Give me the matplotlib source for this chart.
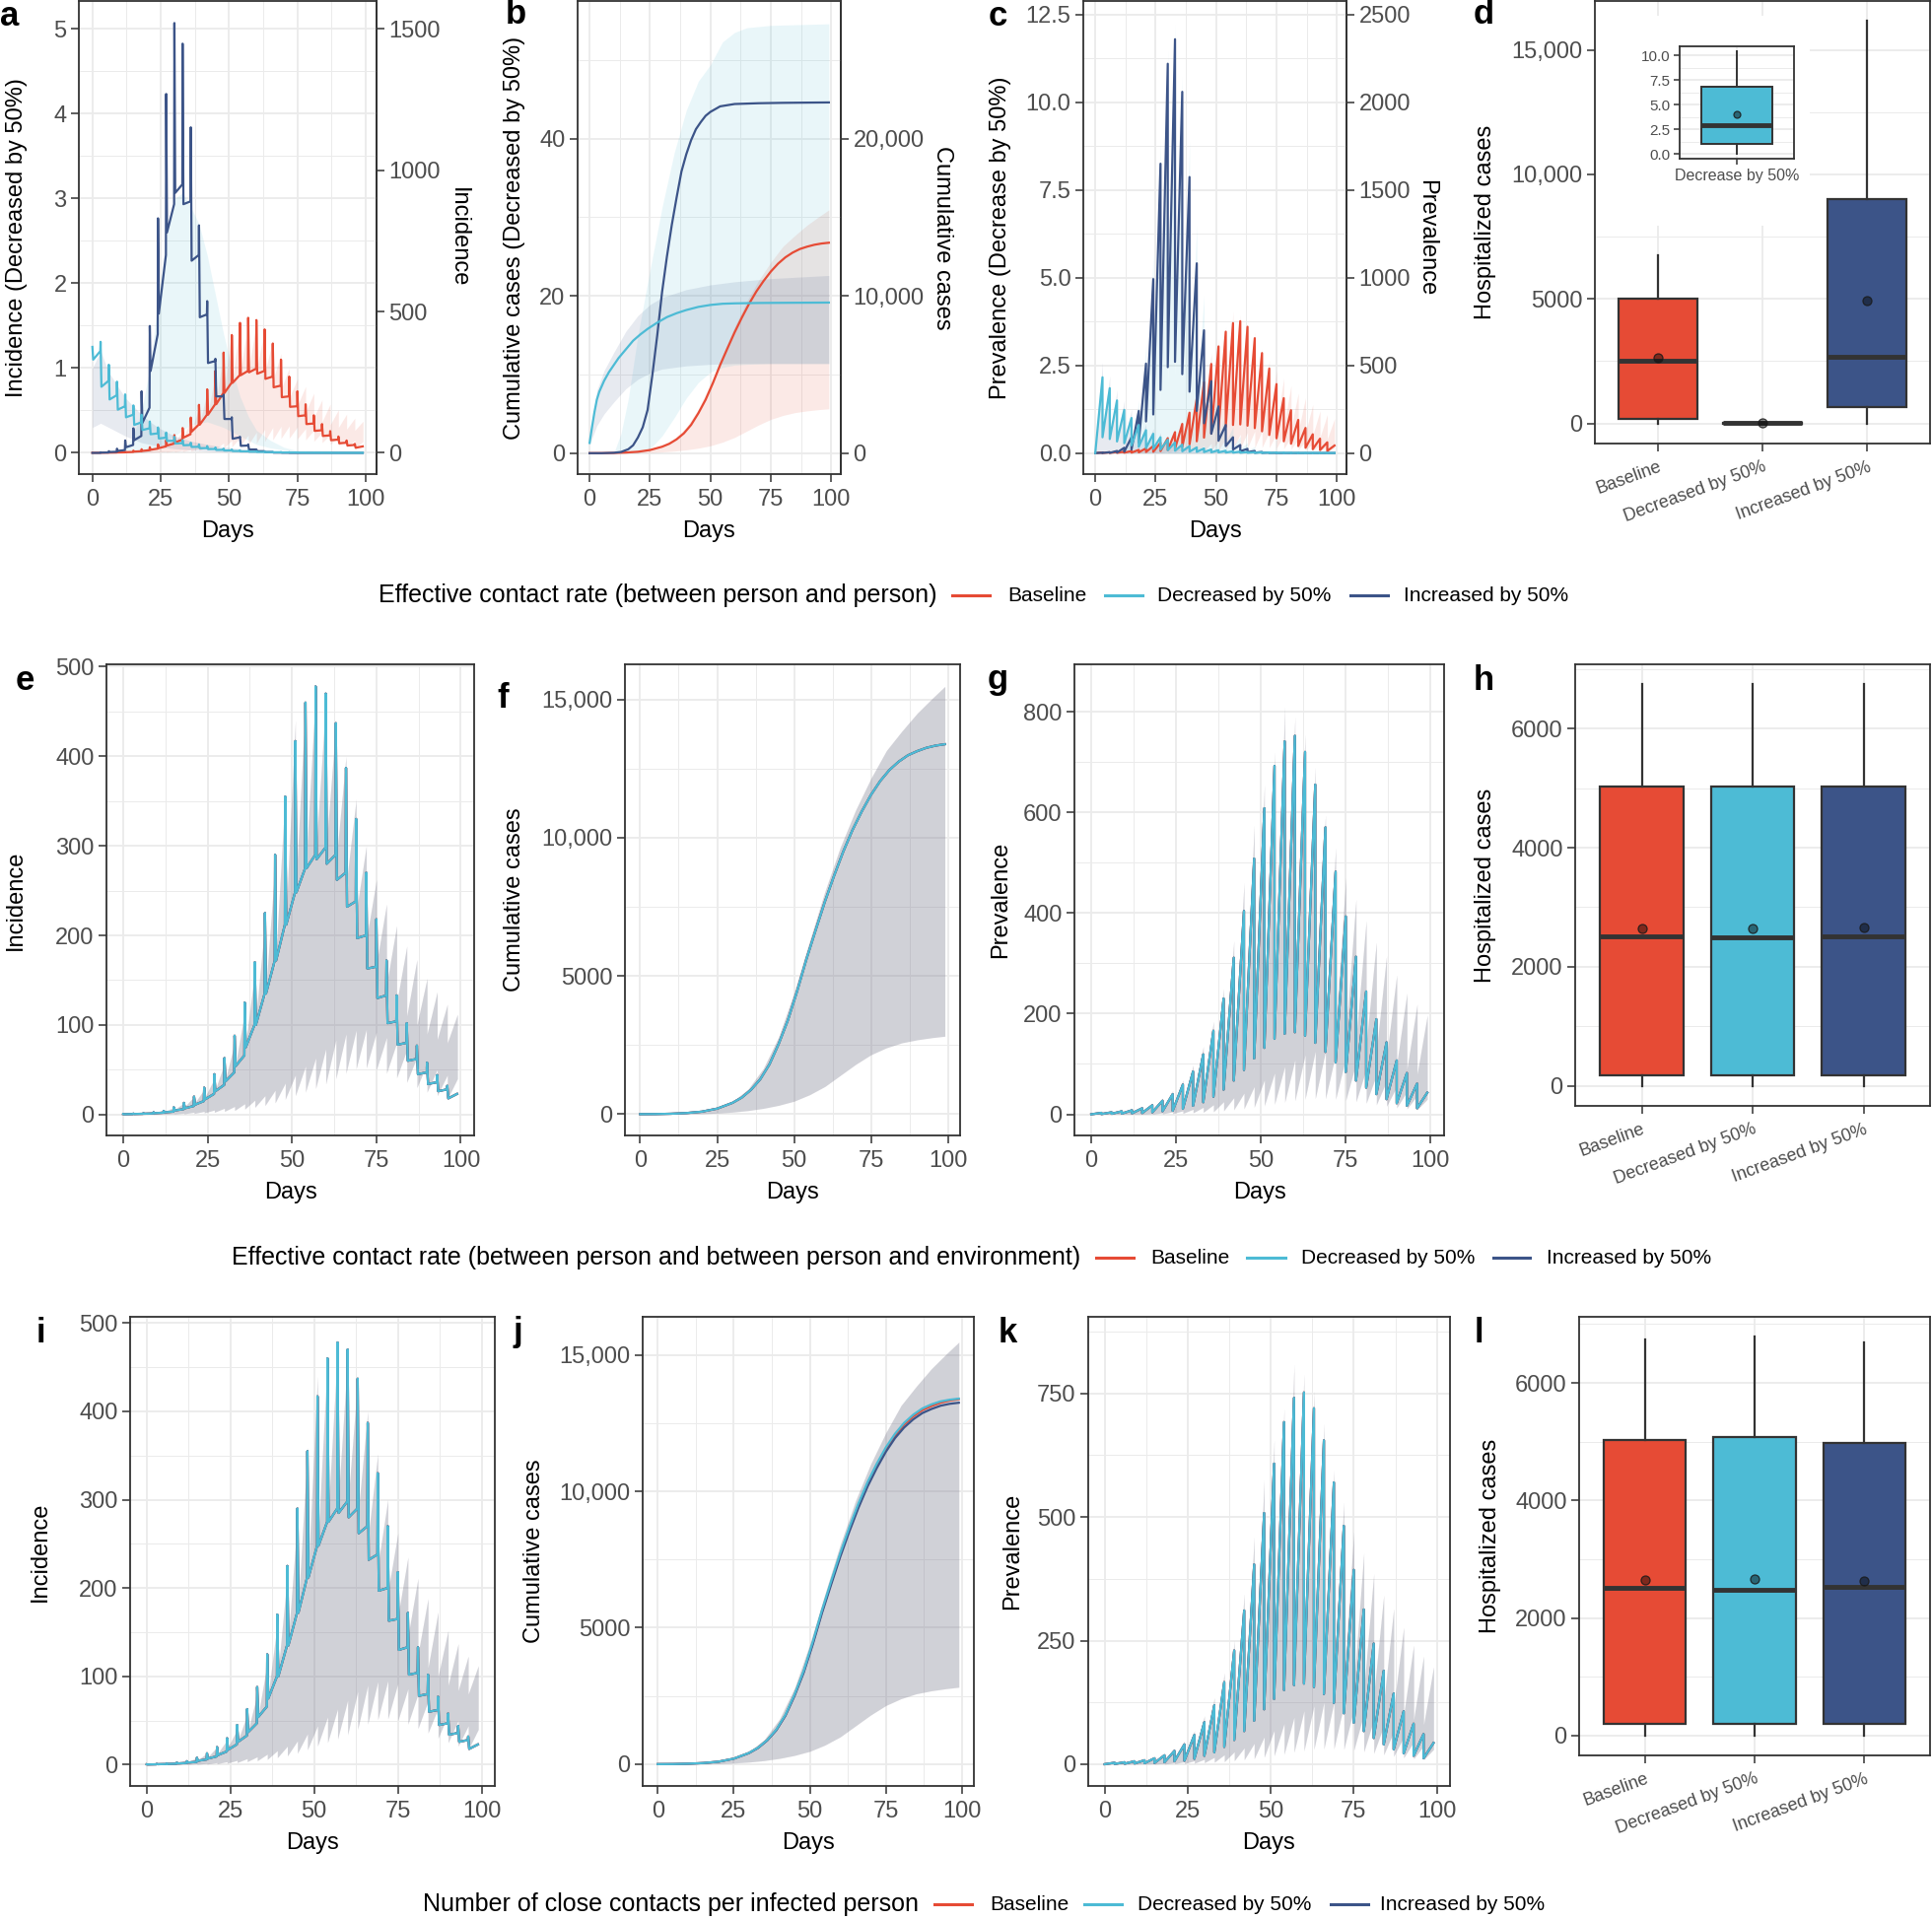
import numpy as np
import matplotlib
matplotlib.use("Agg")
import matplotlib.pyplot as plt
from matplotlib.lines import Line2D
from matplotlib.patches import Rectangle
from matplotlib.ticker import FuncFormatter, NullLocator

plt.rcParams["font.family"] = ["Liberation Sans", "DejaVu Sans"]

RED, CYAN, NAVY = "#E64B35", "#4DBBD5", "#3C5488"
INK, TICK, GRID = "#333333", "#4D4D4D", "#EBEBEB"
W, H = 1960, 1948

# -------------------------
# DATA
# -------------------------
scenarios = ["Baseline", "Decreased by 50%", "Increased by 50%"]
saw_days = list(range(0, 100, 3))      # 0, 3, ... 99
spike_days = saw_days[:33]             # 0, 3, ... 96

# baseline incidence (spike at each 3rd day, level after the drop, level before the next spike)
inc_peak = [0.5, 1, 1.5, 2.5, 4, 8, 13, 20, 30, 45, 63, 88, 125, 170, 225, 290, 355, 417, 460, 478,
            470, 437, 387, 330, 270, 218, 172, 133, 102, 77, 58, 44, 32]
inc_low = [0.3, 0.6, 0.9, 1.5, 2.5, 4.5, 7, 11, 17, 26, 37, 54, 75, 100, 135, 172, 212, 248, 275, 285,
           280, 262, 232, 197, 163, 130, 102, 78, 60, 45, 34, 26, 18]
inc_pre = [0.5, 0.8, 1.2, 2, 3.2, 6, 9.5, 15, 23, 33, 47, 66, 100, 135, 172, 212, 248, 275, 290, 298,
           290, 270, 238, 200, 165, 133, 104, 80, 62, 47, 36, 28, 23]
# band edges of the baseline incidence (peak on each 3rd day incl. day 99, value after the drop)
inc_hi_peak = [0.5, 1, 2, 3, 5, 8, 13, 20, 28, 40, 57, 80, 115, 160, 215, 280, 360, 440, 462, 472,
               462, 437, 400, 352, 300, 262, 235, 211, 188, 173, 152, 137, 123, 112]
inc_hi_drop = [0.3, 0.6, 1, 1.8, 3, 5, 8, 12, 18, 25, 35, 50, 72, 97, 128, 163, 203, 245, 272, 288,
               292, 280, 255, 225, 195, 168, 145, 125, 110, 100, 90, 84, 80]
inc_lo_peak = [0, 0.1, 0.2, 0.4, 0.7, 1, 1.5, 2.5, 3.5, 5, 7, 9, 12, 16, 21, 27, 35, 44, 54, 63,
               73, 83, 90, 94, 95, 92, 86, 80, 72, 64, 57, 50, 44, 40]
inc_lo_drop = [0, 0, 0.1, 0.2, 0.3, 0.5, 0.8, 1.2, 1.8, 2.5, 3.5, 4.5, 6, 8, 10, 13, 17, 21, 25, 29,
               34, 40, 46, 51, 52, 50, 46, 41, 36, 30, 25, 21, 17]

# baseline prevalence (peak on each 3rd day, value right after the drop)
prev_peak = [0, 3, 4, 6, 8, 12, 18, 27, 40, 59, 85, 119, 166, 230, 311, 404, 508, 608, 692, 741,
             752, 720, 655, 570, 482, 393, 313, 244, 189, 143, 107, 82, 61, 43]
prev_drop = [0, 0.5, 1, 1.5, 2, 2.5, 4, 6, 7, 11, 17, 24, 35, 49, 67, 88, 111, 132, 150, 160,
             163, 156, 142, 124, 103, 84, 67, 53, 40, 30, 22, 17, 12]
prev_hi_peak = [0, 4, 6, 8, 11, 15, 22, 32, 47, 68, 98, 135, 185, 250, 345, 460, 575, 655, 720, 810,
                790, 755, 690, 595, 530, 470, 427, 385, 342, 315, 277, 241, 219, 197]
prev_hi_drop = [0, 1, 1.5, 2, 3, 4, 6, 8, 11, 16, 24, 34, 48, 65, 88, 115, 140, 165, 185, 195,
                200, 198, 190, 180, 170, 160, 150, 140, 125, 115, 100, 90, 80]
prev_lo_peak = [0, 0.2, 0.3, 0.5, 0.7, 1, 1.5, 3, 5, 7, 10, 14, 19, 25, 33, 42, 55, 68, 82, 95,
                108, 118, 125, 125, 120, 112, 102, 90, 78, 66, 55, 45, 37, 30]
prev_lo_drop = [0, 0, 0, 0.1, 0.1, 0.2, 0.3, 1, 1.5, 2, 3, 4, 5, 7, 9, 11, 14, 17, 20, 24,
                27, 30, 31, 31, 30, 28, 25, 22, 19, 16, 13, 11, 9]

# baseline cumulative cases
cum_days = [0, 5, 10, 15, 20, 25, 30, 33, 36, 39, 42, 45, 48, 51, 54, 57, 60, 63, 66, 69,
            72, 75, 78, 81, 84, 87, 90, 93, 96, 99]
cum_base = [0, 3, 15, 40, 90, 200, 410, 600, 880, 1260, 1800, 2540, 3400, 4450, 5600, 6650, 7680, 8620, 9500, 10280,
            10950, 11550, 12050, 12450, 12750, 12980, 13130, 13250, 13330, 13380]
cum_band_days = [0, 10, 20, 25, 30, 35, 40, 45, 50, 55, 60, 65, 70, 75, 80, 85, 90, 95, 99]
cum_band_hi = [0, 20, 100, 220, 460, 900, 1650, 2800, 4400, 6250, 8050, 9650, 11000, 12150, 13150, 13850, 14500, 15050, 15470]
cum_band_lo = [0, 3, 15, 40, 75, 130, 210, 320, 470, 700, 1000, 1400, 1800, 2150, 2400, 2580, 2690, 2770, 2820]

# panel a: increased (right axis units) and decreased (left axis units)
a_inc_peak = [0, 2, 6, 15, 44, 87, 218, 449, 830, 1270, 1521, 1448, 1152, 805, 537, 333, 206, 126, 57, 30,
              12, 5, 2, 1, 0, 0, 0, 0, 0, 0, 0, 0, 0]
a_inc_low = [0, 1, 3, 7, 20, 45, 106, 290, 493, 780, 920, 880, 680, 480, 318, 200, 120, 50, 25, 12,
             6, 3, 1, 0.5, 0, 0, 0, 0, 0, 0, 0, 0, 0]
a_inc_pre = [0, 1.5, 4, 10, 28, 60, 160, 420, 700, 880, 950, 890, 700, 490, 325, 200, 120, 55, 26, 12,
             6, 3, 1, 0.5, 0, 0, 0, 0, 0, 0, 0, 0, 0]
a_dec_peak = [1.25, 1.31, 1.04, 0.84, 0.69, 0.56, 0.45, 0.37, 0.30, 0.24, 0.19, 0.15, 0.12, 0.10, 0.08, 0.065,
              0.05, 0.04, 0.03, 0.025, 0.02, 0.015, 0.012, 0.01, 0.008, 0.006, 0.005, 0.004, 0.003, 0.003,
              0.002, 0.002, 0.001]
a_dec_low = [1.10, 0.78, 0.63, 0.51, 0.42, 0.33, 0.27, 0.22, 0.17, 0.14, 0.11, 0.09, 0.07, 0.055, 0.045, 0.035,
             0.028, 0.022, 0.018, 0.014, 0.011, 0.009, 0.007, 0.005, 0.004, 0.003, 0.002, 0.002, 0.002, 0.001,
             0.001, 0.001, 0.001]
a_dec_pre = [1.2, 0.85, 0.68, 0.55, 0.45, 0.36, 0.29, 0.23, 0.18, 0.145, 0.115, 0.093, 0.072, 0.057, 0.046, 0.036,
             0.029, 0.022, 0.018, 0.014, 0.011, 0.009, 0.007, 0.005, 0.004, 0.003, 0.002, 0.002, 0.002, 0.001,
             0.001, 0.001, 0.001]
a_inc_band_days = [12, 15, 18, 21, 24, 27, 30, 33, 36, 39, 42, 45, 48, 51, 54, 57, 60, 65, 70, 75, 80]
a_inc_band_hi = [20, 60, 150, 300, 540, 760, 900, 920, 870, 810, 700, 560, 420, 300, 200, 130, 80, 45, 20, 8, 0]
a_inc_band_lo = [0, 0, 0, 5, 20, 40, 60, 80, 100, 105, 110, 100, 90, 75, 60, 45, 30, 18, 10, 4, 0]
a_dec_band_days = [0, 3, 6, 9, 12, 15, 18, 21, 24, 27, 30, 36, 42, 48, 54, 60, 70, 80, 99]
a_dec_band_hi = [1.0, 1.2, 0.95, 0.8, 0.65, 0.55, 0.45, 0.37, 0.3, 0.25, 0.2, 0.14, 0.1, 0.07, 0.05, 0.03, 0.015, 0.007, 0.002]
a_dec_band_lo = [0.3, 0.35, 0.3, 0.25, 0.2, 0.16, 0.12, 0.1, 0.08, 0.06, 0.05, 0.035, 0.02, 0.01, 0.005, 0, 0, 0, 0]

# panel b: cumulative, increased (right units) and decreased (left units)
b_inc_days = [0, 5, 10, 13, 16, 18, 20, 22, 24, 26, 28, 30, 32, 34, 36, 38, 40, 42, 44, 46,
              48, 50, 54, 60, 70, 80, 99]
b_inc_cum = [0, 0, 25, 75, 250, 500, 1000, 1650, 2750, 5000, 7500, 10250, 12500, 14500, 16250, 17900, 19000, 19900, 20600, 21050,
             21450, 21700, 22050, 22200, 22250, 22275, 22300]
b_dec_days = [0, 1, 2, 3, 4, 6, 8, 10, 12, 15, 18, 21, 24, 28, 32, 36, 40, 45, 50, 55, 60, 70, 80, 99]
b_dec_cum = [1.3, 3.3, 5.2, 6.8, 7.8, 9.2, 10.3, 11.2, 12.1, 13.2, 14.3, 15.1, 15.8, 16.6, 17.3, 17.8, 18.2, 18.6,
             18.85, 19.0, 19.05, 19.1, 19.12, 19.15]
b_inc_band_days = [10, 13, 16, 20, 24, 27, 30, 35, 40, 45, 50, 55, 60, 65, 75, 99]
b_inc_band_hi = [0, 1250, 3450, 7500, 10850, 13250, 15650, 19100, 21800, 23650, 24700, 26150, 26750, 27050, 27200, 27300]
b_inc_band_lo = [0, 0, 0, 0, 150, 600, 1100, 2250, 3500, 4500, 5150, 5450, 5600, 5650, 5700, 5700]
b_dec_band_days = [0, 3, 6, 10, 15, 20, 25, 30, 40, 50, 60, 75, 99]
b_dec_band_hi = [1.5, 8, 10.5, 12.8, 15.5, 17.5, 18.9, 19.8, 20.8, 21.4, 21.8, 22.2, 22.6]
b_dec_band_lo = [1.1, 3.5, 5, 6.5, 8.2, 9.4, 10.2, 10.7, 11.1, 11.3, 11.4, 11.4, 11.4]

# panel c: prevalence, increased (right units) and decreased (left units)
c_inc_peak = [0, 2, 5, 12, 30, 90, 240, 510, 992, 1650, 2220, 2360, 2060, 1574, 1082, 700, 410, 266, 160, 90,
              46, 24, 12, 6, 3, 1, 0, 0, 0, 0, 0, 0, 0, 0]
c_inc_drop = [0, 0.5, 1, 3, 8, 20, 60, 180, 220, 360, 490, 520, 450, 350, 240, 170, 110, 70, 40, 20,
              10, 5, 2, 1, 0.5, 0, 0, 0, 0, 0, 0, 0, 0]
c_dec_peak = [0, 2.16, 1.85, 1.5, 1.23, 1.0, 0.8, 0.65, 0.55, 0.45, 0.38, 0.3, 0.24, 0.2, 0.16, 0.13, 0.1, 0.08,
              0.065, 0.05, 0.04, 0.03, 0.025, 0.02, 0.015, 0.012, 0.01, 0.008, 0.006, 0.005, 0.004, 0.003, 0.003, 0.002]
c_dec_drop = [0, 0.45, 0.4, 0.33, 0.28, 0.22, 0.18, 0.14, 0.12, 0.1, 0.08, 0.065, 0.05, 0.04, 0.035, 0.028, 0.022,
              0.018, 0.014, 0.011, 0.009, 0.007, 0.005, 0.004, 0.003, 0.0025, 0.002, 0.0017, 0.0013, 0.001,
              0.0008, 0.0006, 0.0005]
c_inc_band_peak = [0, 3, 7, 16, 40, 110, 300, 620, 1150, 1800, 2300, 2450, 2150, 1780, 1300, 900, 560, 360, 230, 150,
                   95, 60, 38, 24, 15, 9, 5, 3, 2, 1, 0.5, 0, 0, 0]
c_inc_band_drop = [0, 0.5, 1, 3, 8, 20, 55, 120, 200, 300, 400, 450, 430, 380, 300, 220, 150, 100, 65, 40,
                   25, 15, 9, 5, 3, 2, 1, 0.5, 0, 0, 0, 0, 0]
c_dec_band_peak = [0, 2.6, 2.2, 1.8, 1.5, 1.25, 1.0, 0.85, 0.7, 0.58, 0.48, 0.4, 0.33, 0.27, 0.22, 0.18, 0.15, 0.12,
                   0.1, 0.08, 0.065, 0.05, 0.04, 0.032, 0.025, 0.02, 0.016, 0.012, 0.01, 0.008, 0.006, 0.005, 0.004, 0.003]
c_dec_band_drop = [0, 0.6, 0.5, 0.42, 0.35, 0.29, 0.23, 0.19, 0.16, 0.13, 0.11, 0.09, 0.075, 0.06, 0.05, 0.04, 0.033,
                   0.027, 0.022, 0.018, 0.014, 0.011, 0.009, 0.007, 0.006, 0.005, 0.004, 0.003, 0.0025, 0.002,
                   0.0015, 0.001, 0.001]

# panel j: the three cumulative curves part slightly at the end
j_navy = [0, 3, 15, 40, 90, 200, 405, 595, 870, 1245, 1780, 2510, 3360, 4400, 5540, 6580, 7600, 8530, 9400, 10180,
          10850, 11450, 11950, 12340, 12640, 12870, 13020, 13140, 13210, 13250]
j_cyan = [0, 3, 15, 40, 90, 200, 412, 605, 885, 1270, 1815, 2560, 3430, 4490, 5640, 6700, 7730, 8680, 9560, 10340,
          11010, 11610, 12110, 12510, 12810, 13040, 13190, 13300, 13360, 13400]

# hospitalized cases (box stats)
d_lo, d_q1, d_med, d_q3, d_hi, d_mean = [0, 0, 0], [184, 1.0, 640], [2510, 2.9, 2690], [5021, 6.8, 9020], [6742, 10.4, 16150], [2651, 4.0, 4915]
h_lo, h_q1, h_med, h_q3, h_hi, h_mean = [0, 0, 0], [184, 184, 184], [2510, 2500, 2505], [5021, 5020, 5030], [6742, 6745, 6750], [2651, 2640, 2655]
l_lo, l_q1, l_med, l_q3, l_hi, l_mean = [0, 0, 0], [193, 193, 193], [2510, 2480, 2528], [5025, 5085, 4977], [6740, 6782, 6692], [2648, 2672, 2630]

# -------------------------
# HELPERS
# -------------------------
fig = plt.figure(figsize=(W / 100, H / 100), dpi=100)


def frac(px):
    x0, y0, x1, y1 = px
    return [x0 / W, 1 - y1 / H, (x1 - x0) / W, (y1 - y0) / H]


def spike_path(peak, low, pre):
    xs, ys = [], []
    for d, p, b, q in zip(spike_days, peak, low, pre):
        xs += [d, d + 0.3, d + 2.9]
        ys += [p, b, q]
    return np.array(xs, float), np.array(ys, float)


def saw_path(peak, drop):
    xs, ys = [], []
    for k, p in enumerate(peak):
        xs.append(saw_days[k]); ys.append(p)
        if k < len(drop):
            xs.append(saw_days[k]); ys.append(drop[k])
    return np.array(xs, float), np.array(ys, float)


def minors(ticks, lim):
    step = ticks[1] - ticks[0]
    cand = [ticks[0] - step / 2] + [(a + b) / 2 for a, b in zip(ticks[:-1], ticks[1:])] + [ticks[-1] + step / 2]
    return [c for c in cand if lim[0] < c < lim[1]]


int_fmt = FuncFormatter(lambda v, p: f"{int(round(v))}")
comma_fmt = FuncFormatter(lambda v, p: f"{int(round(v)):,}" if abs(v) >= 10000 else f"{int(round(v))}")
dec_fmt = FuncFormatter(lambda v, p: f"{v:.1f}")


def dress(ax, ylim, yticks, yfmt, xlim, xticks, xminor=True, size=17, tlen=6, pad=5):
    ax.set_xlim(xlim); ax.set_ylim(ylim)
    ax.set_xticks(xticks)
    if xminor:
        ax.set_xticks(minors(xticks, xlim), minor=True)
    ax.set_yticks(yticks)
    ax.set_yticks(minors(yticks, ylim), minor=True)
    ax.yaxis.set_major_formatter(yfmt)
    ax.grid(True, which="major", color=GRID, lw=1.3)
    ax.grid(True, which="minor", color=GRID, lw=0.7)
    ax.set_axisbelow(True)
    ax.tick_params(which="major", length=tlen, width=1.1, color=INK, labelsize=size, labelcolor=TICK, pad=pad)
    ax.tick_params(axis="y", which="major", pad=3)
    ax.tick_params(which="minor", length=0)
    for s in ax.spines.values():
        s.set_color(INK); s.set_linewidth(1.3)


def line_panel(px, ylim, yticks, yfmt):
    ax = fig.add_axes(frac(px))
    dress(ax, ylim, yticks, yfmt, (-4.95, 103.95), [0, 25, 50, 75, 100])
    ax.set_xlabel("Days", fontsize=17, labelpad=7)
    return ax


def right_axis(ax, factor, ticks, fmt):
    sec = ax.secondary_yaxis("right", functions=(lambda v: v * factor, lambda v: v / factor))
    sec.set_yticks(ticks)
    sec.yaxis.set_major_formatter(fmt)
    sec.yaxis.set_minor_locator(NullLocator())
    sec.tick_params(length=6, width=1.1, color=INK, labelsize=17, labelcolor=TICK, pad=3)
    sec.spines["right"].set_color(INK); sec.spines["right"].set_linewidth(1.3)
    return sec


def boxes(ax, lo, q1, med, q3, hi, mean, positions, colors, lw=1.6, ms=6.5):
    stats = [dict(whislo=a, q1=b, med=c, q3=d, whishi=e, mean=m, fliers=[])
             for a, b, c, d, e, m in zip(lo, q1, med, q3, hi, mean)]
    art = ax.bxp(stats, positions=positions, widths=0.75, patch_artist=True, showmeans=True,
                 showcaps=False, showfliers=False, manage_ticks=False,
                 boxprops=dict(edgecolor=INK, linewidth=lw),
                 whiskerprops=dict(color=INK, linewidth=lw),
                 medianprops=dict(color=INK, linewidth=3.5, solid_capstyle="butt"),
                 meanprops=dict(marker="o", markersize=ms, markerfacecolor=(0, 0, 0, 0.45),
                                markeredgecolor=(0.1, 0.1, 0.1, 0.85), markeredgewidth=0.9))
    for patch, col in zip(art["boxes"], colors):
        patch.set_facecolor(col)


def box_panel(px, ylim, yticks, yfmt, lo, q1, med, q3, hi, mean):
    ax = fig.add_axes(frac(px))
    dress(ax, ylim, yticks, yfmt, (0.4, 3.6), [1, 2, 3], xminor=False)
    boxes(ax, lo, q1, med, q3, hi, mean, [1, 2, 3], [RED, CYAN, NAVY])
    ax.set_xticklabels(scenarios, rotation=20, ha="right", rotation_mode="anchor", fontsize=13, color=TICK)
    return ax


def band(ax, x, lo, hi, color):
    ax.fill_between(x, lo, hi, color=color, alpha=0.12, linewidth=0)


def ylab(x_px, px, text, rot=90):
    yc = 1 - (px[1] + px[3]) / 2 / H
    fig.text(x_px / W, yc, text, rotation=rot, ha="center", va="center", fontsize=17)


def letter(x_px, y_px, s):
    fig.text(x_px / W, 1 - y_px / H, s, ha="center", va="center", fontsize=25, fontweight="bold")


def legend_row(y_px, title, title_end, keys, text_x):
    y = 1 - y_px / H
    fig.text(title_end / W, y, title, ha="right", va="center", fontsize=18)
    for (k0, k1), tx, col, lab in zip(keys, text_x, [RED, CYAN, NAVY], scenarios):
        fig.add_artist(Line2D([k0 / W, k1 / W], [y, y], color=col, lw=2.2))
        fig.text(tx / W, y, lab, ha="left", va="center", fontsize=15)


# pre-built paths for the baseline scenario
xi, inc_line = spike_path(inc_peak, inc_low, inc_pre)
xib, inc_hi = saw_path(inc_hi_peak, inc_hi_drop)
_, inc_lo = saw_path(inc_lo_peak, inc_lo_drop)
xp, prev_line = saw_path(prev_peak, prev_drop)
_, prev_hi = saw_path(prev_hi_peak, prev_hi_drop)
_, prev_lo = saw_path(prev_lo_peak, prev_lo_drop)

# -------------------------
# ROW 1
# -------------------------
A = (80, 1, 382, 481)
ax = line_panel(A, (-0.25, 5.33), [0, 1, 2, 3, 4, 5], int_fmt)
right_axis(ax, 300, [0, 500, 1000, 1500], int_fmt)
band(ax, xib, inc_lo / 300, inc_hi / 300, RED)
band(ax, a_inc_band_days, np.array(a_inc_band_lo) / 300, np.array(a_inc_band_hi) / 300, CYAN)
band(ax, a_dec_band_days, a_dec_band_lo, a_dec_band_hi, NAVY)
ax.plot(xi, inc_line / 300, color=RED, lw=1.6)
xa, ya = spike_path(a_inc_peak, a_inc_low, a_inc_pre)
ax.plot(xa, ya / 300, color=NAVY, lw=1.6)
xa, ya = spike_path(a_dec_peak, a_dec_low, a_dec_pre)
ax.plot(xa, ya, color=CYAN, lw=1.6)
ylab(17, A, "Incidence (Decreased by 50%)")
ylab(465, A, "Incidence", rot=-90)

B = (586, 1, 853, 481)
ax = line_panel(B, (-2.66, 57.5), [0, 20, 40], int_fmt)
right_axis(ax, 500, [0, 10000, 20000], comma_fmt)
band(ax, cum_band_days, np.array(cum_band_lo) / 500, np.array(cum_band_hi) / 500, RED)
band(ax, b_inc_band_days, np.array(b_inc_band_lo) / 500, np.array(b_inc_band_hi) / 500, CYAN)
band(ax, b_dec_band_days, b_dec_band_lo, b_dec_band_hi, NAVY)
ax.plot(cum_days, np.array(cum_base) / 500, color=RED, lw=1.6)
ax.plot(b_inc_days, np.array(b_inc_cum) / 500, color=NAVY, lw=1.6)
ax.plot(b_dec_days, b_dec_cum, color=CYAN, lw=1.6)
ylab(522, B, "Cumulative cases (Decreased by 50%)")
ylab(956, B, "Cumulative cases", rot=-90)

C = (1099, 1, 1366, 481)
ax = line_panel(C, (-0.6, 12.89), [0, 2.5, 5, 7.5, 10, 12.5], dec_fmt)
right_axis(ax, 200, [0, 500, 1000, 1500, 2000, 2500], int_fmt)
band(ax, xp, prev_lo / 200, prev_hi / 200, RED)
xc, yc = saw_path(c_inc_band_peak, c_inc_band_drop)
band(ax, xc, 0, yc / 200, CYAN)
xc, yc = saw_path(c_dec_band_peak, c_dec_band_drop)
band(ax, xc, 0, yc, NAVY)
ax.plot(xp, prev_line / 200, color=RED, lw=1.6)
xc, yc = saw_path(c_inc_peak, c_inc_drop)
ax.plot(xc, yc / 200, color=NAVY, lw=1.6)
xc, yc = saw_path(c_dec_peak, c_dec_drop)
ax.plot(xc, yc, color=CYAN, lw=1.6)
ylab(1015, C, "Prevalence (Decrease by 50%)")
ylab(1447, C, "Prevalence", rot=-90)

D = (1618, 1, 1958, 450)
ax = box_panel(D, (-810, 16960), [0, 5000, 10000, 15000], comma_fmt, d_lo, d_q1, d_med, d_q3, d_hi, d_mean)
ax.add_patch(Rectangle((0.4, 7925), 2.05, 8425, facecolor="white", edgecolor="none", zorder=1))
ins = ax.inset_axes([1.208, 10613, 1.092, 4529], transform=ax.transData, zorder=5)
dress(ins, (-0.5, 10.95), [0, 2.5, 5, 7.5, 10], dec_fmt, (0.4, 1.6), [1], xminor=False, size=11, tlen=4, pad=3)
boxes(ins, d_lo[1:2], d_q1[1:2], d_med[1:2], d_q3[1:2], d_hi[1:2], d_mean[1:2], [1], [CYAN], lw=1.4, ms=5)
ins.set_xticklabels(["Decrease by 50%"], fontsize=11.5, color=TICK)
ylab(1507, D, "Hospitalized cases")

# -------------------------
# ROW 2 and ROW 3
# -------------------------
def triple(ax, xb, lo, hi, x, y):
    for col in (RED, CYAN, NAVY):
        band(ax, xb, lo, hi, col)
    for col in (RED, NAVY, CYAN):
        ax.plot(x, y, color=col, lw=1.6)


E = (108, 674, 481, 1152)
ax = line_panel(E, (-23.4, 502.7), [0, 100, 200, 300, 400, 500], int_fmt)
triple(ax, xib, inc_lo, inc_hi, xi, inc_line)
ylab(16, E, "Incidence")

F = (634, 674, 974, 1152)
ax = line_panel(F, (-770, 16270), [0, 5000, 10000, 15000], comma_fmt)
triple(ax, cum_band_days, cum_band_lo, cum_band_hi, cum_days, cum_base)
ylab(522, F, "Cumulative cases")

G = (1090, 674, 1465, 1152)
ax = line_panel(G, (-42, 894), [0, 200, 400, 600, 800], int_fmt)
triple(ax, xp, prev_lo, prev_hi, xp, prev_line)
ylab(1015, G, "Prevalence")

Hh = (1598, 674, 1958, 1122)
box_panel(Hh, (-337, 7080), [0, 2000, 4000, 6000], int_fmt, h_lo, h_q1, h_med, h_q3, h_hi, h_mean)
ylab(1507, Hh, "Hospitalized cases")

I = (132, 1336, 502, 1812)
ax = line_panel(I, (-24, 507), [0, 100, 200, 300, 400, 500], int_fmt)
triple(ax, xib, inc_lo, inc_hi, xi, inc_line)
ylab(41, I, "Incidence")

J = (652, 1336, 988, 1812)
ax = line_panel(J, (-800, 16400), [0, 5000, 10000, 15000], comma_fmt)
for col in (RED, CYAN, NAVY):
    band(ax, cum_band_days, cum_band_lo, cum_band_hi, col)
ax.plot(cum_days, cum_base, color=RED, lw=1.6)
ax.plot(cum_days, j_navy, color=NAVY, lw=1.6)
ax.plot(cum_days, j_cyan, color=CYAN, lw=1.6)
ylab(542, J, "Cumulative cases")

K = (1104, 1336, 1471, 1812)
ax = line_panel(K, (-44, 905), [0, 250, 500, 750], int_fmt)
triple(ax, xp, prev_lo, prev_hi, xp, prev_line)
ylab(1027, K, "Prevalence")

L = (1602, 1336, 1958, 1781)
box_panel(L, (-337, 7125), [0, 2000, 4000, 6000], int_fmt, l_lo, l_q1, l_med, l_q3, l_hi, l_mean)
ylab(1512, L, "Hospitalized cases")

# -------------------------
# LETTERS AND LEGENDS
# -------------------------
for x, y, s in [(10, 17, "a"), (523, 15, "b"), (1012, 17, "c"), (1505, 15, "d"),
                (25, 690, "e"), (510, 708, "f"), (1012, 690, "g"), (1505, 690, "h"),
                (41, 1352, "i"), (525, 1352, "j"), (1022, 1352, "k"), (1500, 1352, "l")]:
    letter(x, y, s)

legend_row(604, "Effective contact rate (between person and person)", 950,
           [(966, 1004), (1121, 1159), (1370, 1408)], [1022, 1174, 1424])
legend_row(1276, "Effective contact rate (between person and between person and environment)", 1096,
           [(1112, 1150), (1265, 1304), (1515, 1552)], [1167, 1320, 1569])
legend_row(1932, "Number of close contacts per infected person", 932,
           [(948, 986), (1100, 1138), (1350, 1388)], [1004, 1154, 1400])

fig.savefig("out.png", dpi=100, facecolor="white")
